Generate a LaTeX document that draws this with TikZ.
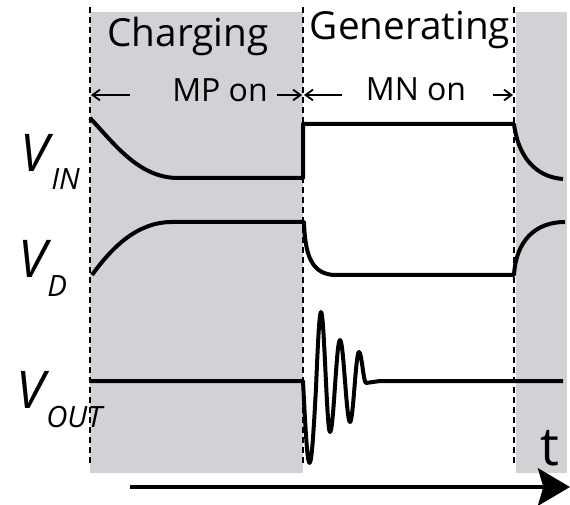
\documentclass[tikz,border=0pt]{standalone}
\usepackage{fontspec}
\setmainfont{Open Sans}
\usetikzlibrary{arrows.meta}
\definecolor{phasegray}{RGB}{209,210,213}
\begin{document}
\begin{tikzpicture}[x=0.75pt,y=-0.75pt,
  wave/.style={line width=3pt, line join=round},
  divider/.style={dash pattern=on 4.5pt off 3pt, line width=1.2pt},
  phase/.style={font=\fontsize{29}{29}\selectfont, anchor=base, inner sep=0pt},
  switch/.style={font=\fontsize{24}{24}\selectfont, anchor=base, inner sep=0pt},
  sig/.style={font=\itshape\fontsize{39}{39}\selectfont, anchor=base west, inner sep=0pt},
  sub/.style={font=\itshape\fontsize{22}{22}\selectfont, anchor=base west, inner sep=0pt},
  span/.style={-{Straight Barb[length=5.5pt,width=8pt]}, line width=1.4pt},
]
\useasboundingbox (0,0) rectangle (570,505);
% shaded phases
\fill[phasegray] (90,12) rectangle (303,473);
\fill[phasegray] (516,12) rectangle (567,473);
% dividers
\coordinate (d1t) at (90,7);  \coordinate (d1b) at (90,463);
\coordinate (d2t) at (303,7); \coordinate (d2b) at (303,463);
\coordinate (d3t) at (514,7); \coordinate (d3b) at (514,463);
\draw[divider] (d1t) -- (d1b);
\draw[divider] (d2t) -- (d2b);
\draw[divider] (d3t) -- (d3b);
% phase labels
\node[phase] (charging) at (188,47) {Charging};
\node[phase] (generating) at (410,40) {Generating};
\node[switch] (mpon) at (220,102) {MP on};
\node[switch] (mnon) at (416,101) {MN on};
\coordinate (a1s) at (130,95); \coordinate (a1e) at (91,95);
\coordinate (a2s) at (277,95); \coordinate (a2e) at (302,95);
\coordinate (a3s) at (342,95); \coordinate (a3e) at (304,95);
\coordinate (a4s) at (493,95); \coordinate (a4e) at (513,95);
\draw[span] (a1s) -- (a1e);
\draw[span] (a2s) -- (a2e);
\draw[span] (a3s) -- (a3e);
\draw[span] (a4s) -- (a4e);
% signal labels
\node[sig] (vin) at (20,172) {V};
\node[sub] (vinsub) at (51,190) {IN};
\node[sig] (vd) at (18,278) {V};
\node[sub] (vdsub) at (47,297) {D};
\node[sig] (vout) at (16,408) {V};
\node[sub] (voutsub) at (46,427) {OUT};
% V_IN
\draw[wave] (90,118) .. controls (113,142) and (138,178) .. (178,178)
  -- (303,178) -- (303,124) -- (514,124)
  .. controls (518,156) and (535,177) .. (563,179);
% V_D
\draw[wave] (92,275) .. controls (113,246) and (138,222) .. (172,222)
  -- (304,222) .. controls (305,256) and (312,275) .. (336,275)
  -- (514,275) .. controls (516,241) and (535,222) .. (565,222);
% V_OUT
\draw[wave] (90,381) -- (303,381)
  sin (309.5,463) cos (316,388) sin (321,312) cos (325.5,372)
  sin (330,432) cos (335,386) sin (340,340) cos (345,381)
  sin (350,422) cos (354.5,387) sin (359,352) cos (362.5,367)
  sin (366,383) -- (380,381) -- (563,381);
% time axis
\coordinate (ts) at (130,487);
\coordinate (te) at (570,487);
\draw[line width=3pt, -{Stealth[length=24pt,width=28pt,inset=4pt]}] (ts) -- (te);
\node[font=\fontsize{40}{40}\selectfont, anchor=base west, inner sep=0pt] (t) at (540,465) {t};
\end{tikzpicture}
\end{document}
